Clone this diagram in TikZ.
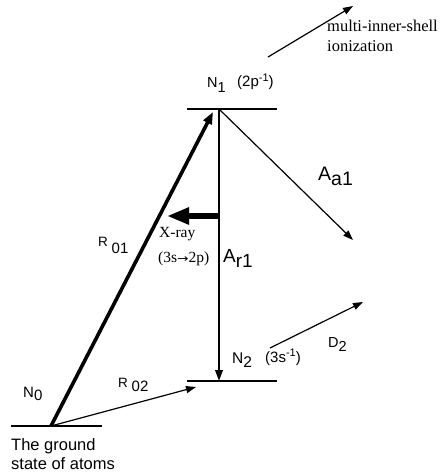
\documentclass[tikz,border=0pt]{standalone}
\usepackage{graphicx}
\usepackage{fontspec}
\setmainfont{Liberation Serif}
\setsansfont{Liberation Sans}
\newfontfamily\symfont{DejaVu Sans}
\usetikzlibrary{arrows.meta}
\newcommand\lo[3]{\raisebox{-#1pt}{\fontsize{#2}{#2}\selectfont #3}}
\newcommand\hi[3]{\raisebox{#1pt}{\fontsize{#2}{#2}\selectfont #3}}
\tikzset{
  level/.style={line width=1.2pt},
  thin arrow/.style={line width=1.2pt,-{Triangle[length=10pt,width=7pt]}},
  mid arrow/.style={line width=2pt,-{Triangle[length=11pt,width=7.5pt]}},
  thick arrow/.style={line width=3.6pt,-{Triangle[length=12pt,width=9pt]}},
  xray arrow/.style={line width=5.5pt,-{Triangle[length=22pt,width=16pt]}},
  lbl/.style={inner sep=0pt,anchor=base west,font=\sffamily},
  slbl/.style={inner sep=0pt,anchor=base west,font=\rmfamily},
}
\begin{document}
\begin{tikzpicture}[x=1pt,y=-1pt]
\useasboundingbox (0,0) rectangle (440,476);
% levels
\coordinate (g1) at (11,426); \coordinate (g2) at (102,426);
\coordinate (g) at (51,426);
\coordinate (a1) at (187,109); \coordinate (a2) at (277,109);
\coordinate (n1) at (219,109);
\coordinate (b1) at (187,381); \coordinate (b2) at (277,381);
\coordinate (n2) at (219,381);
\draw[level] (g1) -- (g2);
\draw[level] (a1) -- (a2);
\draw[level] (b1) -- (b2);
% arrow ends
\coordinate (r01end) at (213,112);
\coordinate (r02end) at (196,387);
\coordinate (aa1end) at (353,240);
\coordinate (xs) at (220,216);
\coordinate (xe) at (167,216);
\coordinate (d2s) at (270,348);
\coordinate (d2e) at (363,302);
\coordinate (ms) at (268,57);
\coordinate (me) at (353,6);
\draw[thick arrow] (g) -- (r01end);
\draw[thin arrow] (g) -- (r02end);
\draw[mid arrow] (n1) -- (n2);
\draw[thin arrow] (n1) -- (aa1end);
\draw[xray arrow] (xs) -- (xe);
\draw[thin arrow] (d2s) -- (d2e);
\draw[thin arrow] (ms) -- (me);
% labels
\node[slbl,font=\rmfamily\fontsize{16.5}{16.5}\selectfont] (mis) at (327,32) {multi-inner-shell};
\node[slbl,font=\rmfamily\fontsize{16.5}{16.5}\selectfont] (ion) at (327,52) {ionization};
\node[lbl,font=\sffamily\fontsize{14.5}{14.5}\selectfont] (N1) at (207,88) {N\lo{5}{14.5}{1}};
\node[lbl,font=\sffamily\fontsize{15}{15}\selectfont] (c1) at (237,87) {(2p\hi{5.5}{11}{-1})};
\node[lbl,font=\sffamily\fontsize{19.5}{19.5}\selectfont] (Aa) at (318,180) {A\lo{5}{19.5}{a1}};
\node[lbl,font=\sffamily\fontsize{19}{19}\selectfont] (Ar) at (223,262) {A\lo{5}{19}{r1}};
\node[slbl,font=\rmfamily\fontsize{15.5}{15.5}\selectfont] (xr) at (159,237) {X-ray};
\node[slbl,font=\rmfamily\fontsize{15.5}{15.5}\selectfont] (xt) at (158,262) {(3s{\symfont\fontsize{11}{11}\selectfont\scalebox{1.25}[1]{→}}2p)};
\node[lbl,font=\sffamily\fontsize{13.5}{13.5}\selectfont] (R1) at (98,246) {R \lo{7}{15}{01}};
\node[lbl,font=\sffamily\fontsize{13.5}{13.5}\selectfont] (R2) at (118,387) {R \lo{4}{15}{02}};
\node[lbl,font=\sffamily\fontsize{15}{15}\selectfont] (N0) at (23,397) {N\lo{3.5}{15}{0}};
\node[lbl,font=\sffamily\fontsize{15.5}{15.5}\selectfont] (N2) at (232,363) {N\lo{4}{15.5}{2}};
\node[lbl,font=\sffamily\fontsize{15}{15}\selectfont] (c2) at (265,362) {(3s\hi{5.5}{11}{-1})};
\node[lbl,font=\sffamily\fontsize{14.5}{14.5}\selectfont] (D2) at (328,347) {D\lo{4}{14.5}{2}};
\node[lbl,font=\sffamily\fontsize{16.5}{16.5}\selectfont] (gs1) at (11,450) {The ground};
\node[lbl,font=\sffamily\fontsize{16.5}{16.5}\selectfont] (gs2) at (11,469) {state of atoms};
\end{tikzpicture}
\end{document}
